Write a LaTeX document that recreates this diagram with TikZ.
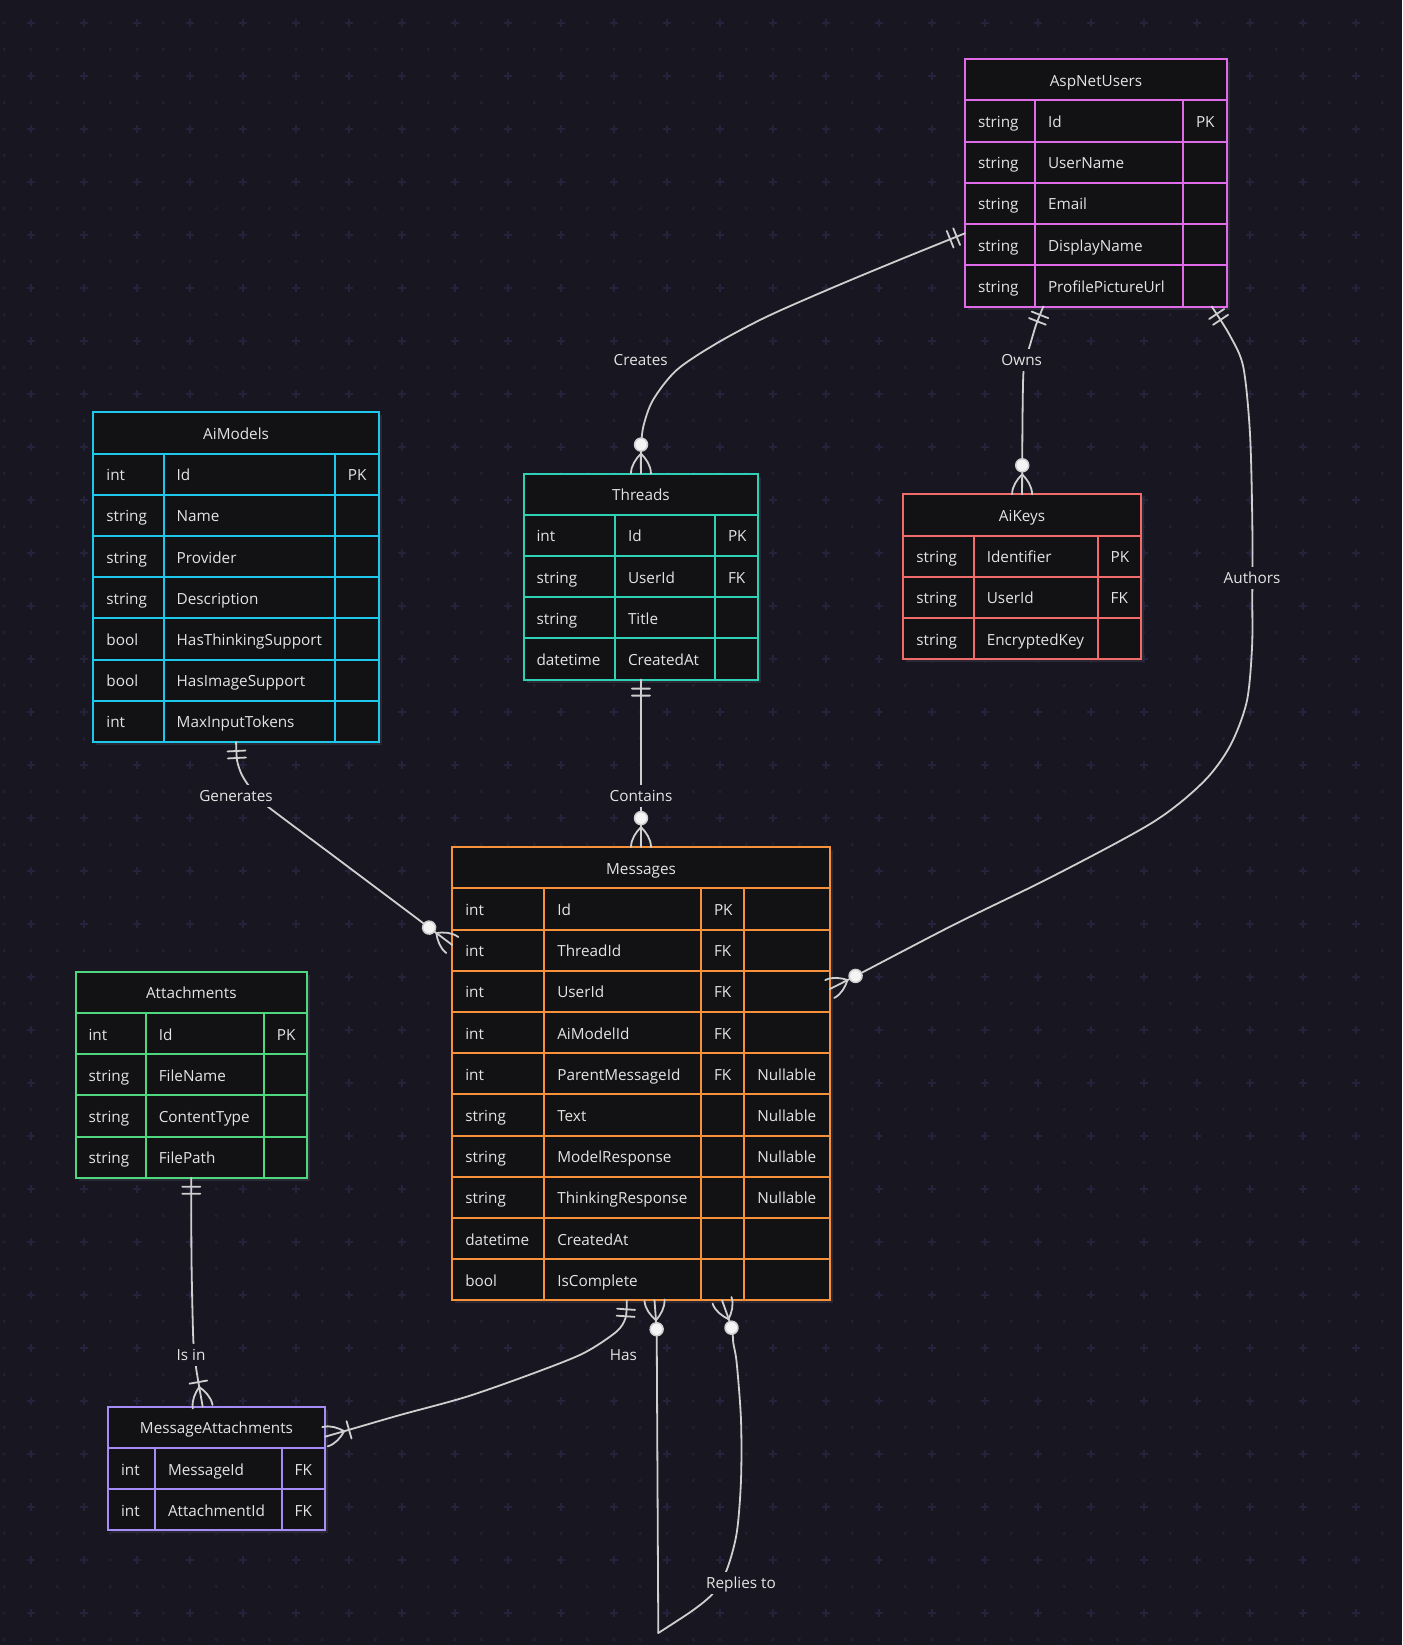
\documentclass[tikz,border=0pt]{standalone}
\usepackage{fontspec}
\setmainfont{Open Sans}
\usetikzlibrary{calc}

\definecolor{pagebg}{HTML}{181721}
\definecolor{gdot}{HTML}{221F33}
\definecolor{gplus}{HTML}{25223C}
\definecolor{cellbg}{HTML}{121214}
\definecolor{shadowc}{HTML}{2A2833}
\definecolor{txt}{HTML}{E4E4E4}
\definecolor{connc}{HTML}{CFCFCF}
\definecolor{knob}{HTML}{F4F4F4}
\definecolor{cusers}{HTML}{E06BE8}
\definecolor{cmodels}{HTML}{1EC8EC}
\definecolor{cthreads}{HTML}{2ED1B6}
\definecolor{ckeys}{HTML}{F26B6B}
\definecolor{cmsg}{HTML}{F7923A}
\definecolor{cattach}{HTML}{4FD780}
\definecolor{cmsgatt}{HTML}{A68CF7}

\tikzset{
  erframe/.style={rectangle, line width=2pt, fill=cellbg, inner sep=0pt, outer sep=0pt, anchor=north west},
  ercell/.style={rectangle, line width=2pt, fill=cellbg, minimum height=41.2pt,
    inner xsep=13pt, inner ysep=0pt, outer sep=0pt, anchor=north west,
    text height=13.5pt, text depth=0.5pt, text=txt},
  erlabel/.style={fill=pagebg, text=txt, inner xsep=3pt, inner ysep=4.5pt, text height=12pt, text depth=1pt},
  conn/.style={draw=connc, line width=1.8pt, line cap=round, line join=round},
  pics/onlyone/.style={code={\draw[conn] (9,-9) -- (9,9) (16,-9) -- (16,9);}},
  pics/zeromany/.style={code={
    \draw[conn] (0,-10) .. controls (8,-10) and (15,-5) .. (20,0) .. controls (15,5) and (8,10) .. (0,10);
    \draw[draw=connc, line width=1.5pt, fill=knob] (29,0) circle[radius=6.5pt];}},
  pics/onemany/.style={code={
    \draw[conn] (0,-10) .. controls (8,-10) and (15,-5) .. (20,0) .. controls (15,5) and (8,10) .. (0,10);
    \draw[conn] (25,-9) -- (25,9);}},
}

% one table cell: colour, name, x, y (top left), width, text
\newcommand\ercell[6]{%
  \pgfmathsetmacro\ertw{#5-26}%
  \node[ercell,draw=#1,minimum width=#5pt,text width=\ertw pt,align=left] (#2) at (#3,#4) {#6};}
\newcommand\erhead[6]{%
  \pgfmathsetmacro\ertw{#5-26}%
  \node[ercell,draw=#1,minimum width=#5pt,text width=\ertw pt,align=center] (#2) at (#3,#4) {#6};}

% entity with three columns: colour, name, x, y, widths (3), title, rows
\newcommand\ertable[9]{%
  \pgfmathsetmacro\erxa{#3+#5}%
  \pgfmathsetmacro\erxb{#3+#5+#6}%
  \pgfmathsetmacro\erw{#5+#6+#7}%
  \foreach \cta/\ctb/\ctc [count=\cnt] in {#9} {\xdef\ernrows{\cnt}}%
  \pgfmathsetmacro\erh{41.2*(\ernrows+1)}%
  \fill[shadowc] (#3+3,#4+3) rectangle ++(\erw,\erh);%
  \node[erframe,draw=#1,minimum width=\erw pt,minimum height=\erh pt] (#2) at (#3,#4) {};%
  \erhead{#1}{#2-h}{#3}{#4}{\erw}{#8}%
  \foreach \cta/\ctb/\ctc [count=\cnt] in {#9} {%
    \pgfmathsetmacro\ery{#4+41.2*\cnt}%
    \ercell{#1}{#2-t\cnt}{#3}{\ery}{#5}{\cta}%
    \ercell{#1}{#2-n\cnt}{\erxa}{\ery}{#6}{\ctb}%
    \ercell{#1}{#2-k\cnt}{\erxb}{\ery}{#7}{\ctc}%
  }}

% relationship end marker: pic, end point on the entity, a point along the connector
\newcommand\ermark[3]{%
  \path let \p1=($(#3)-(#2)$), \n1={atan2(\y1,\x1)} in (#2) pic[rotate=\n1] {#1};}

\begin{document}
\begin{tikzpicture}[x=1pt,y=-1pt,font=\fontsize{15.3}{18}\selectfont]
% canvas
\fill[pagebg] (0,0) rectangle (1402,1645);
\useasboundingbox (0,0) rectangle (1402,1645);
\fill[gdot] \foreach \i in {0,...,53} {\foreach \j in {0,...,62} {(4.3+26.5*\i-1.3,-3.5+26.5*\j-1.3) rectangle ++(2.6,2.6)}};
\draw[gplus, line width=1.5pt] \foreach \i in {0,...,26} {\foreach \j in {0,...,30} {(31+53*\i-4,23+53*\j) -- ++(8,0) (31+53*\i,23+53*\j-4) -- ++(0,8)}};

% entities
\ertable{cusers}{users}{965}{59.3}{70}{148}{44}{AspNetUsers}{string/Id/PK, string/UserName/{}, string/Email/{}, string/DisplayName/{}, string/ProfilePictureUrl/{}}
\ertable{cmodels}{aimodels}{93.4}{412.4}{70.3}{171.1}{44}{AiModels}{int/Id/PK, string/Name/{}, string/Provider/{}, string/Description/{}, bool/HasThinkingSupport/{}, bool/HasImageSupport/{}, int/MaxInputTokens/{}}
\ertable{cthreads}{threads}{523.6}{473.6}{91.4}{100}{43.3}{Threads}{int/Id/PK, string/UserId/FK, string/Title/{}, datetime/CreatedAt/{}}
\ertable{ckeys}{aikeys}{903.4}{494.3}{70.4}{123.9}{43}{AiKeys}{string/Identifier/PK, string/UserId/FK, string/EncryptedKey/{}}
\ertable{cattach}{attach}{75.6}{971.7}{70.2}{118}{43.2}{Attachments}{int/Id/PK, string/FileName/{}, string/ContentType/{}, string/FilePath/{}}
\ertable{cmsgatt}{msgatt}{108}{1406.7}{47}{126.7}{43.3}{MessageAttachments}{int/MessageId/FK, int/AttachmentId/FK}

% Messages has a fourth column
\fill[shadowc] (455.3,850.1) rectangle ++(377.4,453.2);
\node[erframe,draw=cmsg,minimum width=377.4pt,minimum height=453.2pt] (messages) at (452.3,847.1) {};
\erhead{cmsg}{messages-h}{452.3}{847.1}{377.4}{Messages}
\foreach \cta/\ctb/\ctc/\ctd [count=\cnt] in {int/Id/PK/{}, int/ThreadId/FK/{}, int/UserId/FK/{}, int/AiModelId/FK/{}, int/ParentMessageId/FK/Nullable, string/Text/{}/Nullable, string/ModelResponse/{}/Nullable, string/ThinkingResponse/{}/Nullable, datetime/CreatedAt/{}/{}, bool/IsComplete/{}/{}} {
  \pgfmathsetmacro\ery{847.1+41.2*\cnt}
  \ercell{cmsg}{messages-t\cnt}{452.3}{\ery}{92}{\cta}
  \ercell{cmsg}{messages-n\cnt}{544.3}{\ery}{156.7}{\ctb}
  \ercell{cmsg}{messages-k\cnt}{701}{\ery}{43.3}{\ctc}
  \ercell{cmsg}{messages-x\cnt}{744.3}{\ery}{85.4}{\ctd}
}

% connector ends
\coordinate (cr-a) at (users.west |- 0,233.3);
\coordinate (ow-a) at (users.south -| 1043.3,0);
\coordinate (au-a) at (users.south -| 1211.7,0);
\coordinate (au-b) at (messages.east |- 0,989);
\coordinate (ge-b) at (messages.west |- 0,945);
\coordinate (ii-b) at (msgatt.north -| 202.7,0);
\coordinate (ha-a) at (messages.south -| 626.7,0);
\coordinate (ha-b) at (msgatt.east |- 0,1436.7);
\coordinate (rp-a) at (messages.south -| 654.5,0);
\coordinate (rp-b) at (messages.south -| 722,0);
\coordinate (rp-c) at (658.3,1633);

% relationships
\draw[conn] plot[smooth] coordinates {(cr-a) (900,259.6) (833,287.5) (766.7,316.7) (716.7,343.3) (676.7,370) (653,400) (643.3,426.7) (641,450) (threads.north)};
\draw[conn] plot[smooth] coordinates {(ow-a) (1036,325) (1030,345) (1025.5,360) (1023.3,375) (1022.5,420) (aikeys.north)};
\draw[conn] plot[smooth] coordinates {(au-a) (1230,335.7) (1243.3,367) (1250,434) (1252.3,523) (1252.3,600) (1252,648) (1246.7,701.8) (1230,746) (1203.3,782) (1153.3,822) (1053.3,876) (953.3,925) (856,975.7) (au-b)};
\draw[conn] plot[smooth] coordinates {(aimodels.south) (237,760) (241,773) (247,783.3) (256,795) (265.7,805) (333.3,855.7) (400,905.7) (428.3,927) (ge-b)};
\draw[conn] (threads.south) -- (messages.north);
\draw[conn] plot[smooth] coordinates {(attach.south) (191.5,1260) (193.3,1340) (195.7,1365) (198.3,1381.7) (ii-b)};
\draw[conn] plot[smooth] coordinates {(ha-a) (625.5,1318) (616,1332) (583.3,1353.3) (533.3,1373.3) (466.7,1396.7) (400,1415) (348.3,1430) (ha-b)};
\draw[conn] (rp-a) -- (656.7,1330) -- (rp-c);
\draw[conn] plot[smooth] coordinates {(rp-c) (693.3,1610) (713.3,1593) (726.7,1570) (736.7,1533) (741,1480) (741,1420) (736.7,1363) (733.3,1343) (731.7,1328.3) (rp-b)};

% relationship names
\node[erlabel] (l-creates) at (640.7,360) {Creates};
\node[erlabel] (l-owns) at (1021.7,360) {Owns};
\node[erlabel] (l-authors) at (1252,578) {Authors};
\node[erlabel] (l-generates) at (236,796) {Generates};
\node[erlabel] (l-contains) at (641,796) {Contains};
\node[erlabel] (l-isin) at (191,1355) {Is in};
\node[erlabel] (l-has) at (623.3,1355) {Has};
\node[erlabel] (l-replies) at (741,1583) {Replies to};

% cardinality markers
\ermark{onlyone}{cr-a}{900,259.6}
\ermark{zeromany}{threads.north}{641,450}
\ermark{onlyone}{ow-a}{1036,325}
\ermark{zeromany}{aikeys.north}{1022.5,420}
\ermark{onlyone}{au-a}{1222,322}
\ermark{zeromany}{au-b}{856,975.7}
\ermark{onlyone}{aimodels.south}{237,760}
\ermark{zeromany}{ge-b}{428.3,927}
\ermark{onlyone}{threads.south}{messages.north}
\ermark{zeromany}{messages.north}{threads.south}
\ermark{onlyone}{attach.south}{191.5,1260}
\ermark{onemany}{ii-b}{198.3,1381.7}
\ermark{onlyone}{ha-a}{625.5,1318}
\ermark{onemany}{ha-b}{348.3,1430}
\ermark{zeromany}{rp-a}{656.7,1330}
\ermark{zeromany}{rp-b}{731.7,1328.3}
\end{tikzpicture}
\end{document}
